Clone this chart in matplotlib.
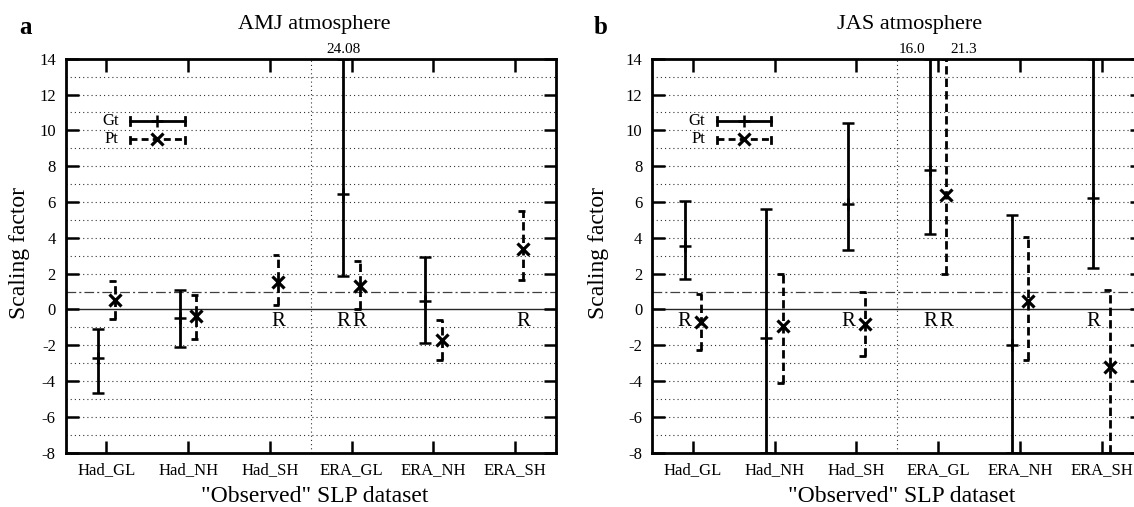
import numpy as np
import matplotlib
matplotlib.use('Agg')
import matplotlib.pyplot as plt

plt.rcParams['font.family'] = ['Liberation Serif', 'DejaVu Serif']
plt.rcParams['lines.scale_dashes'] = False
plt.rcParams['axes.unicode_minus'] = False

categories = ['Had_GL', 'Had_NH', 'Had_SH', 'ERA_GL', 'ERA_NH', 'ERA_SH']
nan = np.nan

# AMJ atmosphere (panel a)
amj_gt_best = [-2.7, -0.5, nan, 6.45, 0.45, nan]
amj_gt_lo = [-4.65, -2.1, nan, 1.85, -1.9, nan]
amj_gt_hi = [-1.1, 1.1, nan, 24.08, 2.95, nan]
amj_pt_best = [0.55, -0.35, 1.55, 1.3, -1.7, 3.4]
amj_pt_lo = [-0.55, -1.65, 0.25, 0.05, -2.85, 1.65]
amj_pt_hi = [1.6, 0.8, 3.05, 2.7, -0.6, 5.5]
amj_r_gt = [0, 0, 0, 1, 0, 0]
amj_r_pt = [0, 0, 1, 1, 0, 1]

# JAS atmosphere (panel b)
jas_gt_best = [3.55, -1.6, 5.9, 7.8, -2.0, 6.2]
jas_gt_lo = [1.7, -8.0, 3.3, 4.2, -8.0, 2.3]
jas_gt_hi = [6.05, 5.6, 10.4, 16.0, 5.3, 14.0]
jas_pt_best = [-0.7, -0.9, -0.8, 6.4, 0.45, -3.2]
jas_pt_lo = [-2.25, -4.1, -2.6, 2.0, -2.85, -8.0]
jas_pt_hi = [0.85, 2.0, 0.95, 21.3, 4.05, 1.1]
jas_r_gt = [1, 0, 1, 1, 0, 1]
jas_r_pt = [0, 0, 0, 1, 0, 0]

YMIN, YMAX = -8, 14
W, H = 1134, 507

fig = plt.figure(figsize=(W / 100, H / 100), dpi=100)


def px(x, y):
    return x / W, 1 - y / H


def draw_panel(ax, gb, gl, gh, pb, pl, ph, rg, rp, fmt, split):
    x = np.arange(1, len(categories) + 1)
    xg = x - 0.1
    xp = x + 0.1
    dots = (0, (0.8, 2.2))
    for yv in range(YMIN + 1, YMAX):
        if yv in (0, 1):
            continue
        ax.axhline(yv, color='0.2', lw=0.8, ls=dots, zorder=1)
    ax.axhline(0, color='0.15', lw=1.0, zorder=1)
    ax.axhline(1, color='0.25', lw=0.9, ls=(0, (7, 2.2, 1.5, 2.2)), zorder=1)
    ax.axvline(3.5, color='0.2', lw=0.8, ls=dots, zorder=1)

    gb = np.array(gb, float); gl = np.array(gl, float); gh = np.array(gh, float)
    pb = np.array(pb, float); pl = np.array(pl, float); ph = np.array(ph, float)
    m = ~np.isnan(gb)
    glc = np.clip(gl, YMIN, YMAX); ghc = np.clip(gh, YMIN, YMAX)
    ax.errorbar(xg[m], gb[m], yerr=[gb[m] - glc[m], ghc[m] - gb[m]], fmt='+',
                color='k', ms=8, mew=1.8, elinewidth=2.0, capsize=4.5,
                capthick=2.0, zorder=3)
    plc = np.clip(pl, YMIN, YMAX); phc = np.clip(ph, YMIN, YMAX)
    ax.vlines(xp, plc, phc, colors='k', linestyles=(0, (6, 3)), lw=2.0, zorder=3)
    ax.hlines(np.concatenate([plc, phc]), np.concatenate([xp, xp]) - 0.065,
              np.concatenate([xp, xp]) + 0.015, colors='k', lw=2.0, zorder=3)
    ax.plot(xp, pb, 'x', color='k', ms=8.5, mew=2.3, zorder=4)

    for i in range(len(categories)):
        if rg[i]:
            ax.text(xg[i], -0.9, 'R', ha='center', va='baseline', fontsize=15)
        if rp[i]:
            ax.text(xp[i], -0.9, 'R', ha='center', va='baseline', fontsize=15)
        if gh[i] > YMAX:
            if split:
                ax.text(xg[i] - 0.06, YMAX + 0.3, fmt % gh[i], ha='right',
                        va='baseline', fontsize=11, clip_on=False)
            else:
                ax.text(xg[i], YMAX + 0.3, fmt % gh[i], ha='center',
                        va='baseline', fontsize=11, clip_on=False)
        if ph[i] > YMAX:
            if split:
                ax.text(xp[i] + 0.05, YMAX + 0.3, fmt % ph[i], ha='left',
                        va='baseline', fontsize=11, clip_on=False)
            else:
                ax.text(xp[i], YMAX + 0.3, fmt % ph[i], ha='center',
                        va='baseline', fontsize=11, clip_on=False)

    # legend key
    lx0, lx1, lxc = 1.29, 1.96, 1.625
    ax.plot([lx0, lx1], [10.5, 10.5], color='k', lw=2.0, zorder=3)
    ax.plot([lx0, lx0], [10.28, 10.72], color='k', lw=2.0, zorder=3)
    ax.plot([lx1, lx1], [10.28, 10.72], color='k', lw=2.0, zorder=3)
    ax.plot([lxc], [10.5], '+', color='k', ms=8, mew=1.8, zorder=4)
    ax.plot([lx0, lx1], [9.5, 9.5], color='k', lw=2.0, ls=(0, (5, 3)), zorder=3)
    ax.plot([lx0, lx0], [9.28, 9.62], color='k', lw=2.0, zorder=3)
    ax.plot([lx1, lx1], [9.28, 9.62], color='k', lw=2.0, zorder=3)
    ax.plot([lxc], [9.5], 'x', color='k', ms=8.5, mew=2.3, zorder=4)
    ax.text(1.15, 10.5, 'Gt', ha='right', va='center', fontsize=12)
    ax.text(1.15, 9.5, 'Pt', ha='right', va='center', fontsize=12)

    ax.set_xlim(0.5, 6.5)
    ax.set_ylim(YMIN, YMAX)
    ax.set_xticks(x, categories)
    ax.set_yticks(range(YMIN, YMAX + 1, 2))
    ax.tick_params(axis='both', direction='in', top=True, right=True,
                   length=9, width=1.8, labelsize=12)
    ax.tick_params(axis='y', pad=7)
    ax.tick_params(axis='x', pad=7)
    for s in ax.spines.values():
        s.set_linewidth(2.0)


ax1 = fig.add_axes([65.5 / W, 54.3 / H, 490.5 / W, 394 / H])
ax2 = fig.add_axes([652 / W, 54.3 / H, 490.5 / W, 394 / H])

draw_panel(ax1, amj_gt_best, amj_gt_lo, amj_gt_hi, amj_pt_best, amj_pt_lo,
           amj_pt_hi, amj_r_gt, amj_r_pt, '%.2f', False)
draw_panel(ax2, jas_gt_best, jas_gt_lo, jas_gt_hi, jas_pt_best, jas_pt_lo,
           jas_pt_hi, jas_r_gt, jas_r_pt, '%.1f', True)

fig.text(*px(314.5, 29.5), 'AMJ atmosphere', ha='center', va='baseline', fontsize=16)
fig.text(*px(909.5, 29.5), 'JAS atmosphere', ha='center', va='baseline', fontsize=16)
fig.text(*px(19, 33.5), 'a', ha='left', va='baseline', fontsize=18, fontweight='bold')
fig.text(*px(594, 33.5), 'b', ha='left', va='baseline', fontsize=18, fontweight='bold')
for cx in (315, 901.5):
    fig.text(*px(cx, 496), '"Observed" SLP dataset', ha='center', va='center', fontsize=17)
for cx in (20, 598.5):
    fig.text(*px(cx, 253), 'Scaling factor', ha='center', va='center',
             rotation=90, fontsize=17)

fig.savefig('out.png', dpi=100)
